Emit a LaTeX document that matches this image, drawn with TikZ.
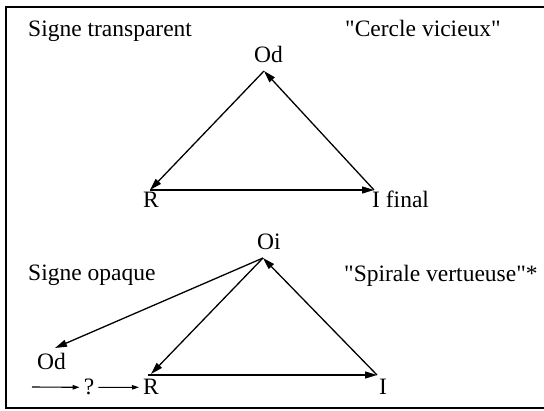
\documentclass[tikz,border=0pt]{standalone}
\usepackage{fontspec}
\setmainfont{Liberation Serif}
\usepackage{tikz}
\usetikzlibrary{arrows.meta,positioning}
\tikzset{
  lbl/.style={inner sep=0pt, anchor=base west},
  link/.style={line width=1.3pt, -{Triangle[length=12pt,width=7pt]}},
  qarrow/.style={line width=1.1pt, -{Triangle[length=7pt,width=4.5pt]}, shorten >=4pt, shorten <=0pt}
}

\begin{document}
\begin{tikzpicture}[x=1pt, y=-1pt, font=\fontsize{23.5}{28}\selectfont]
  \useasboundingbox (0,0) rectangle (544,411);

  % frame (open on the right)
  \draw[line width=1.3pt] (544,7) -- (6,7) -- (6,408) -- (544,408);

  % === TOP: transparent sign ===
  \node[lbl] (ttrans) at (28,37) {Signe transparent};
  \node[lbl] (tcercle) at (345,37) {\textquotedbl Cercle vicieux\textquotedbl};

  \node[lbl] (od) at (254,63) {Od};
  \node[lbl] (r) at (143,208) {R};
  \node[lbl] (ifin) at (372,208) {I final};

  \coordinate (odv) at (264,71);
  \coordinate (rv) at (150,190);
  \coordinate (ifinv) at (374,190);

  \draw[link] (odv) -- (rv);
  \draw[link] (rv) -- (ifinv);
  \draw[link] (ifinv) -- (odv);

  % === BOTTOM: opaque sign ===
  \node[lbl] (topaque) at (28,281) {Signe opaque};
  \node[lbl] (tspirale) at (344,282) {\textquotedbl Spirale vertueuse\textquotedbl*};

  \node[lbl] (oi) at (257,250) {Oi};
  \node[lbl] (odb) at (37,370) {Od};
  \node[inner sep=0pt, anchor=base] (q) at (89,395) {?};
  \node[lbl] (rb) at (143,395) {R};
  \node[lbl] (ib) at (379,395) {I};

  \coordinate (oiv) at (263,258);
  \coordinate (odbv) at (55,348);
  \coordinate (rbv) at (151,374);
  \coordinate (ibv) at (377,375);
  \coordinate (qin) at (32,387);

  \draw[link] (oiv) -- (odbv);
  \draw[link] (oiv) -- (rbv);
  \draw[link] (148,375) -- (ibv);
  \draw[link] (ibv) -- (oiv);

  % unknown step before R
  \draw[qarrow] (qin) -- (q);
  \draw[qarrow, shorten <=4pt] (q) -- (rb);
\end{tikzpicture}
\end{document}
